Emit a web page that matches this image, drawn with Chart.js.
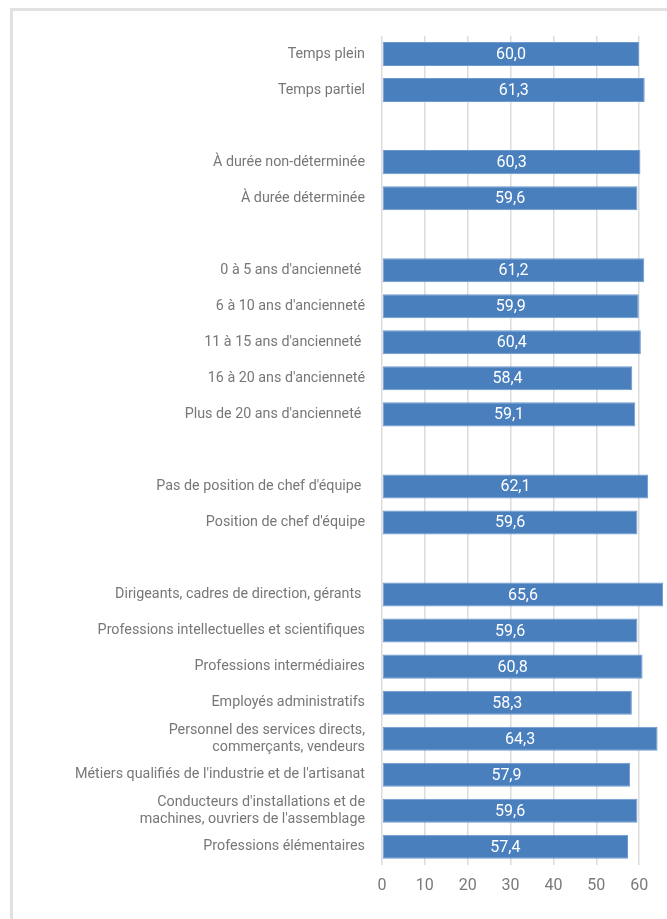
<!DOCTYPE html>
<html>
<head>
<meta charset="utf-8">
<script src="https://cdn.jsdelivr.net/npm/chart.js@4"></script>
<style>
  body { margin: 0; background: #fff; }
  #frame { position: absolute; left: 10px; top: 8px; width: 700px; height: 950px; border: 3px solid #e1e1e1; }
  #wrap { position: absolute; left: 0; top: 0; width: 667px; height: 919px; }
</style>
</head>
<body>
<div id="frame"></div>
<div id="wrap"><canvas id="chart" width="667" height="919"></canvas></div>
<script>
// Categories (empty strings are the blank spacer rows between groups)
const categories = [
  "Temps plein",
  "Temps partiel",
  "",
  "À durée non-déterminée",
  "À durée déterminée",
  "",
  "0 à 5 ans d'ancienneté ",
  "6 à 10 ans d'ancienneté",
  "11 à 15 ans d'ancienneté ",
  "16 à 20 ans d'ancienneté",
  "Plus de 20 ans d'ancienneté ",
  "",
  "Pas de position de chef d'équipe ",
  "Position de chef d'équipe",
  "",
  "Dirigeants, cadres de direction, gérants ",
  "Professions intellectuelles et scientifiques",
  "Professions intermédiaires",
  "Employés administratifs",
  ["Personnel des services directs,", "commerçants, vendeurs"],
  "Métiers qualifiés de l'industrie et de l'artisanat",
  ["Conducteurs d'installations et de", "machines, ouvriers de l'assemblage"],
  "Professions élémentaires"
];

const values = [
  60.0, 61.3, null,
  60.3, 59.6, null,
  61.2, 59.9, 60.4, 58.4, 59.1, null,
  62.1, 59.6, null,
  65.6, 59.6, 60.8, 58.3, 64.3, 57.9, 59.6, 57.4
];

const xTicks = [0, 10, 20, 30, 40, 50, 60];

// draw the value in the middle of each bar
const barValues = {
  id: "barValues",
  afterDatasetsDraw(chart) {
    const ctx = chart.ctx;
    const meta = chart.getDatasetMeta(0);
    ctx.save();
    ctx.fillStyle = "#ffffff";
    ctx.font = "16px Roboto";
    ctx.textAlign = "center";
    ctx.textBaseline = "middle";
    meta.data.forEach((bar, i) => {
      if (values[i] == null) return;
      const cx = (bar.x + bar.base) / 2;
      ctx.fillText(values[i].toFixed(1).replace(".", ","), cx, bar.y + 1);
    });
    ctx.restore();
  }
};

new Chart(document.getElementById("chart"), {
  type: "bar",
  data: {
    labels: categories,
    datasets: [{
      data: values,
      backgroundColor: "#4a7fbe",
      borderColor: "#6b98cf",
      borderWidth: 1,
      borderSkipped: false,
      barPercentage: 0.667,
      categoryPercentage: 1
    }]
  },
  options: {
    indexAxis: "y",
    responsive: false,
    animation: false,
    layout: { padding: { top: 36, right: 0, bottom: 11, left: 0 } },
    plugins: { legend: { display: false }, tooltip: { enabled: false } },
    scales: {
      x: {
        min: 0,
        max: 66.5,
        afterBuildTicks: (s) => { s.ticks = xTicks.map((v) => ({ value: v })); },
        grid: { color: "#dcdcdc", lineWidth: 1.5, drawTicks: false },
        border: { display: false },
        ticks: { color: "#7a7a7a", font: { family: "Roboto", size: 16 }, padding: 12 }
      },
      y: {
        afterFit: (s) => { s.width = 382; },
        grid: { display: false, drawTicks: false },
        border: { display: false },
        ticks: {
          color: "#777",
          font: { family: "Roboto", size: 14.3, lineHeight: 1.2 },
          padding: 17,
          autoSkip: false
        }
      }
    }
  },
  plugins: [barValues]
});
</script>
</body>
</html>
